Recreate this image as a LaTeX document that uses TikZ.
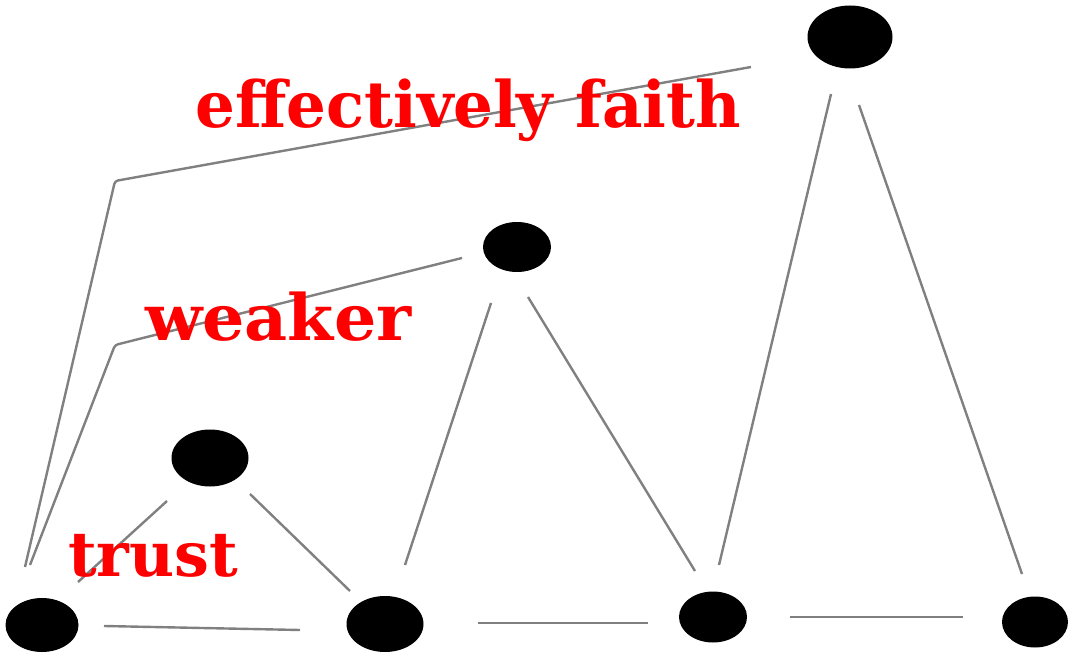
\documentclass[tikz,border=0pt]{standalone}
\usepackage{fontspec}
\newfontfamily\labfont{DejaVu Serif}
\usetikzlibrary{shapes.geometric,calc}
\begin{document}
\begin{tikzpicture}[x=1pt,y=-1pt,
  dot/.style={ellipse,fill=black,inner sep=0pt,draw=none},
  edge/.style={draw=gray,line width=2.4pt},
  lab/.style={anchor=base west,inner sep=0pt,text=red,font=\labfont\bfseries\fontsize{64}{64}\selectfont}]
\useasboundingbox (0,0) rectangle (1069,655);
% nodes
\node[dot,minimum width=73pt,minimum height=54pt] (A) at (42,625) {};
\node[dot,minimum width=77pt,minimum height=57pt] (B) at (210,458) {};
\node[dot,minimum width=77pt,minimum height=56pt] (C) at (385,624) {};
\node[dot,minimum width=68pt,minimum height=50pt] (D) at (517,247) {};
\node[dot,minimum width=85pt,minimum height=63pt] (E) at (850,37) {};
\node[dot,minimum width=68pt,minimum height=51pt] (F) at (713,617) {};
\node[dot,minimum width=66pt,minimum height=51pt] (G) at (1035,622) {};
\coordinate (cE) at (115,181);
\coordinate (cD) at (115,345);
% connectors
\draw[edge] ($(A)+(62,1)$) -- ($(C)+(-85,6)$);
\draw[edge] ($(C)+(93,-1)$) -- ($(F)+(-65,6)$);
\draw[edge] ($(F)+(77,0)$) -- ($(G)+(-72,-5)$);
\draw[edge] ($(B)+(-43,43)$) -- ($(A)+(36,-43)$);
\draw[edge] ($(B)+(40,36)$) -- ($(C)+(-35,-33)$);
\draw[edge] ($(D)+(-26,56)$) -- ($(C)+(20,-59)$);
\draw[edge] ($(D)+(11,50)$) -- ($(F)+(-18,-46)$);
\draw[edge] ($(E)+(-19,57)$) -- ($(F)+(6,-52)$);
\draw[edge] ($(E)+(9,68)$) -- ($(G)+(-13,-48)$);
\draw[edge,rounded corners=3pt] ($(A)+(-17,-58)$) -- (cE) -- ($(E)+(-99,30)$);
\draw[edge,rounded corners=3pt] ($(A)+(-12,-60)$) -- (cD) -- ($(D)+(-55,11)$);
% labels
\node[lab,xscale=0.978] (t1) at (195,128) {effectively faith};
\node[lab,xscale=1.04] (t2) at (145,340) {weaker};
\node[lab,font=\labfont\bfseries\fontsize{62}{62}\selectfont] (t3) at (68,576) {trust};
\end{tikzpicture}
\end{document}
